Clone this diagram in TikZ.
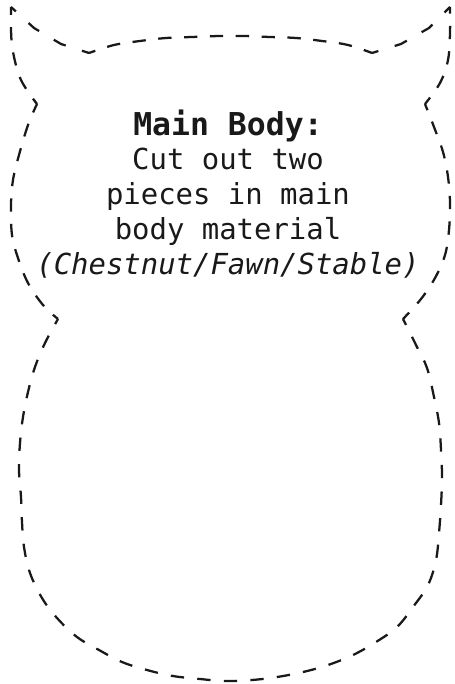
\documentclass[tikz,border=0pt]{standalone}
\usepackage{fontspec}
\setmonofont{DejaVu Sans Mono}
\begin{document}
\begin{tikzpicture}[x=0.75pt,y=-0.75pt]
                \tikzstyle{cutline}=[draw=black!90,line width=1.7pt,dash pattern=on 10pt off #1pt,dash phase=5pt]
                \tikzstyle{label}=[align=center,font=\ttfamily\fontsize{21.7}{26.25}\selectfont,text=black!90,inner sep=0pt]
                \useasboundingbox (0,0) rectangle (454,684);
                \coordinate (tip-l) at (11,7);
                \coordinate (tip-r) at (450,7);
                \coordinate (ear-l) at (89,53);
                \coordinate (ear-r) at (372,53);
                \coordinate (head-l) at (37,104);
                \coordinate (head-r) at (425,104);
                \coordinate (neck-l) at (58,319);
                \coordinate (neck-r) at (403,319);

                \node[label] (main-text) at (228,194) {{\fontsize{23.6}{26.25}\selectfont\textbf{Main Body:}}\\[-1.2pt]Cut out two\\pieces in main\\body material\\\textit{(Chestnut/Fawn/Stable)}};

                \draw[cutline=12.8] plot coordinates {(tip-l) (34,28) (61,44) (ear-l)};
                \draw[cutline=9.4] plot[smooth,tension=0.6] coordinates {(ear-l) (114,45) (140,41) (166,38) (192,37) (220,36) (244,36) (270,37) (296,38) (322,41) (348,45) (ear-r)};
                \draw[cutline=12.8] plot coordinates {(ear-r) (401,44) (429,28) (tip-r)};
                \draw[cutline=9.1] plot[smooth,tension=0.6] coordinates {(tip-r) (450,33) (448,60) (440,83) (head-r)};
                \draw[cutline=9.2] plot[smooth,tension=0.6] coordinates {(head-r) (434,127) (443,152) (448,177) (450,203) (449,230) (445,255) (435,278) (421,299) (neck-r)};
                \draw[cutline=9.95] plot[smooth,tension=0.6] coordinates {(neck-r) (416,345) (427,368) (434,397) (439,423) (441,450) (442,477) (441,505) (439,533) (436,560) (428,585) (413,607) (397,627) (376,642) (353,655) (328,665) (303,672) (277,677) (252,680) (225,681) (200,679) (173,676) (147,670) (122,662) (99,650) (77,637) (57,618) (42,598) (30,573) (24,547) (22,522) (21,497) (19,470) (20,443) (23,417) (28,392) (35,367) (45,343) (neck-l)};
                \draw[cutline=9.2] plot[smooth,tension=0.6] coordinates {(neck-l) (43,305) (28,283) (18,258) (12,235) (11,205) (13,180) (19,155) (28,125) (head-l)};
                \draw[cutline=9.1] plot[smooth,tension=0.6] coordinates {(head-l) (21,80) (13,52) (11,30) (tip-l)};
\end{tikzpicture}
\end{document}
